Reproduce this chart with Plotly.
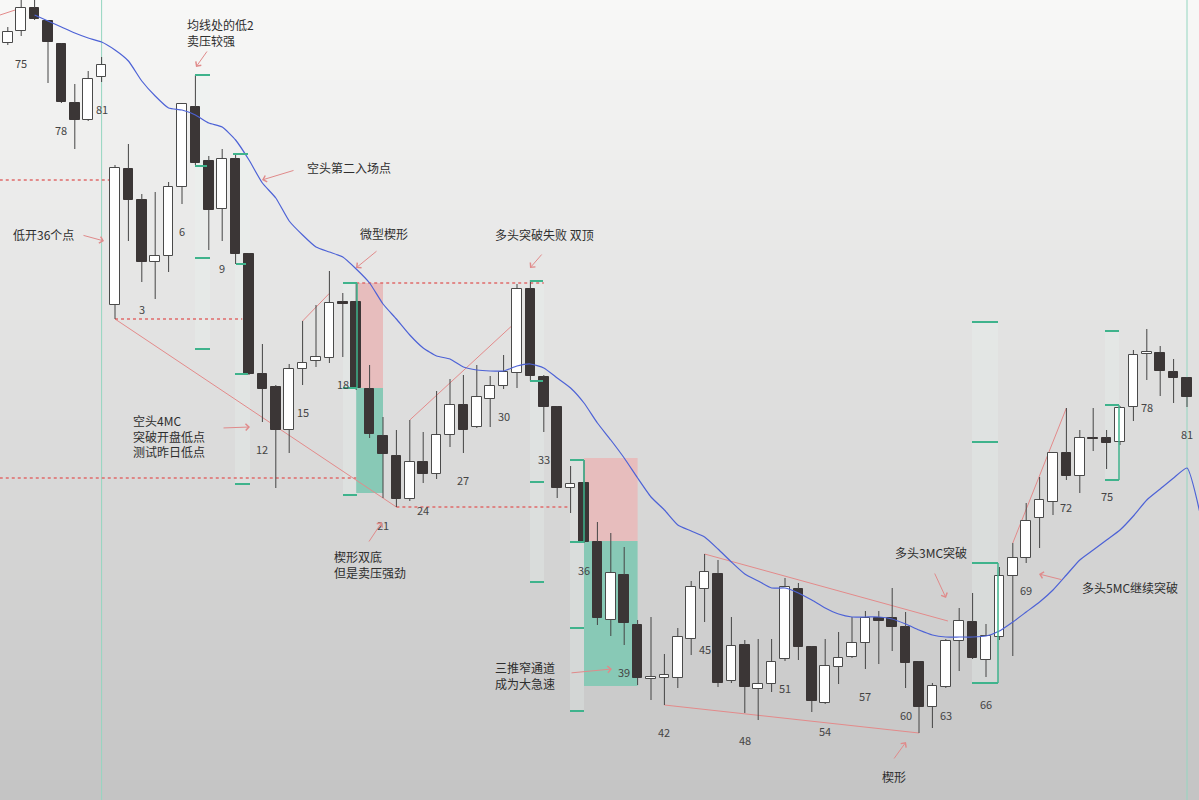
import plotly.graph_objects as go

W, H = 1199, 800

# ---------------- data ----------------
# previous session bars 74..81, then today's bars 1..81
bar_no = [74, 75, 76, 77, 78, 79, 80, 81] + list(range(1, 82))

opens = [4143.55, 4145.35, 4148.8, 4146.85, 4143.4, 4134.55, 4132, 4138.45,
         4104.25, 4124.65, 4120, 4110.7, 4111.6, 4121.95, 4133.95, 4125.85, 4118.65, 4126.15,
         4111.9, 4093.9, 4091.95, 4085.5, 4094.65, 4095.85, 4096.3, 4104.7, 4104.7, 4091.65,
         4084.6, 4081.6, 4075.15, 4080.7, 4078.9, 4084.75, 4089.25, 4085.95, 4090.15, 4092.1,
         4094.05, 4106.65, 4093.45, 4088.95, 4076.8, 4077.55, 4068.7, 4057, 4063.75, 4056.25,
         4048.15, 4048.3, 4048.3, 4054.15, 4061.65, 4063.9, 4047.85, 4053.25, 4046.65, 4047.4,
         4051.15, 4061.65, 4052.95, 4044.55, 4049.95, 4051.45, 4053.55, 4057.3, 4057.3, 4055.95,
         4050.7, 4043.95, 4046.95, 4053.85, 4056.7, 4051, 4054.45, 4063.6, 4066.3, 4072.3,
         4074.7, 4082.05, 4078.6, 4084.3, 4084.3, 4083.7, 4088.95, 4096.9, 4097.05, 4094.2,
         4093.3]
highs = [4145.95, 4150.3, 4150.3, 4147, 4143.55, 4137.4, 4139.35, 4141.45,
         4125.25, 4128.4, 4120.9, 4121.2, 4122.7, 4134.55, 4138.75, 4126.6, 4127.65, 4126.9,
         4112.05, 4098.4, 4092.25, 4095.4, 4101.85, 4104.25, 4109.35, 4106.05, 4107.55, 4095.25,
         4087.45, 4085.5, 4087, 4085.2, 4091.35, 4093.15, 4093.75, 4095.25, 4093.6, 4096.75,
         4107.4, 4108, 4093.75, 4089.1, 4080.1, 4081, 4071.7, 4070.05, 4067.95, 4057,
         4057.45, 4051.9, 4055.8, 4062.85, 4066.9, 4066, 4057.45, 4054, 4054.15, 4054.15,
         4063.3, 4062.55, 4053.1, 4054.15, 4055.2, 4057.45, 4058.35, 4058.35, 4061.8, 4058.2,
         4050.85, 4047.55, 4054.15, 4058.8, 4061.05, 4056.4, 4064.95, 4068.55, 4074.55, 4078.45,
         4082.2, 4088.8, 4085.5, 4088.8, 4085.5, 4089.1, 4097.5, 4100.65, 4098.1, 4096.15,
         4093.45]
lows = [4143.25, 4144.6, 4147, 4137.55, 4134.55, 4127.65, 4131.85, 4137.7,
        4102.15, 4113.85, 4107.7, 4105.15, 4109.2, 4119.4, 4125.25, 4112.5, 4113.85, 4110.4,
        4093.75, 4086.7, 4076.8, 4082.05, 4092.25, 4094.95, 4095.55, 4096.45, 4091.5, 4084.3,
        4075.3, 4073.95, 4074.85, 4077.55, 4078.15, 4082.95, 4082.05, 4085.8, 4085.95, 4091.65,
        4091.8, 4092.85, 4085.2, 4075.3, 4073.05, 4068.55, 4056.25, 4054.6, 4053.25, 4047.25,
        4045, 4044.25, 4046.8, 4051.75, 4056.7, 4046.95, 4047.55, 4043.05, 4042, 4046.2,
        4050.85, 4051, 4043.2, 4044.4, 4047.4, 4051.3, 4049.65, 4050.4, 4052.35, 4046.8,
        4040.05, 4040.8, 4046.8, 4049.35, 4051.15, 4048.45, 4054, 4051.6, 4065.55, 4067.8,
        4072.75, 4078, 4076.05, 4082.35, 4079.65, 4083.25, 4086.85, 4093, 4090.6, 4089.55,
        4088.95]
closes = [4145.2, 4148.8, 4147.15, 4143.7, 4134.7, 4132, 4138.15, 4140.25,
          4124.8, 4120, 4110.7, 4111.6, 4121.95, 4134.4, 4125.55, 4118.5, 4126.15, 4111.9,
          4093.9, 4091.65, 4085.5, 4094.65, 4095.55, 4096.45, 4104.55, 4104.4, 4091.8, 4084.9,
          4081.9, 4075.15, 4080.7, 4078.9, 4084.75, 4089.25, 4085.5, 4090.45, 4092.1, 4094.2,
          4106.65, 4093.6, 4088.95, 4076.8, 4077.4, 4068.7, 4057.3, 4064.05, 4056.55, 4048.3,
          4048.45, 4048.75, 4054.45, 4061.95, 4064.2, 4047.55, 4053.1, 4046.95, 4047.4, 4050.7,
          4061.95, 4052.95, 4044.85, 4050.1, 4051.3, 4053.55, 4057.3, 4056.85, 4055.95, 4050.55,
          4043.95, 4047.1, 4053.85, 4056.85, 4051.3, 4054.6, 4063.6, 4066.3, 4071.85, 4075,
          4082.05, 4078.6, 4084.3, 4084.15, 4083.55, 4088.8, 4096.75, 4097.2, 4094.35, 4093.3,
          4090.45]

# moving average, starting at previous-session bar 76 (index 2)
ma_start = 2
ma_values = [4147.75, 4146.85, 4145.95, 4145.05, 4144.3, 4143.7,
             4142.5, 4140.85, 4137.85, 4135.6, 4133.8, 4133.5, 4132.75, 4131.55, 4130.95, 4129,
             4126, 4122.55, 4120.3, 4116.85, 4114.75, 4112.95, 4112.2, 4111.45, 4109.65, 4107.55,
             4104.4, 4102.15, 4099.75, 4097.8, 4096.6, 4096.15, 4094.95, 4094.5, 4094.35, 4094.35,
             4095.1, 4095.4, 4094.8, 4093.3, 4091.8, 4089.55, 4086.55, 4084, 4081.3, 4078.3,
             4075.45, 4073.5, 4071.25, 4070.35, 4069.45, 4067.65, 4065.7, 4063.9, 4062.85, 4061.8,
             4061.8, 4061.05, 4060, 4058.8, 4057.9, 4057.45, 4057.45, 4057.45, 4057.15, 4056.4,
             4055.5, 4054.75, 4054.45, 4054.45, 4054.45, 4054.6, 4055.35, 4056.7, 4058.2, 4059.7,
             4061.5, 4063.75, 4066, 4067.5, 4069, 4070.5, 4072.6, 4075, 4076.65, 4078.3,
             4079.8, 4072.75]

# ---------------- figure ----------------
xs = list(range(len(bar_no)))


def bi(k):
    """x index of today's bar k"""
    return k + 7


fig = go.Figure()

# wicks (above and below the body)
wx, wy = [], []
for i in xs:
    top = max(opens[i], closes[i])
    bot = min(opens[i], closes[i])
    wx += [i, i, None, i, i, None]
    wy += [highs[i], top, None, bot, lows[i], None]
fig.add_trace(go.Scatter(x=wx, y=wy, mode="lines", line=dict(color="#454545", width=1),
                         hoverinfo="skip"))

up = [c >= o for o, c in zip(opens, closes)]
fig.add_trace(go.Bar(
    x=xs,
    y=[max(abs(c - o), 0.15) for o, c in zip(opens, closes)],
    base=[min(o, c) for o, c in zip(opens, closes)],
    width=0.72,
    marker=dict(color=["#ffffff" if u else "#3b3636" for u in up],
                line=dict(color=["#4a4a4a" if u else "#3b3636" for u in up], width=1)),
    hoverinfo="skip"))

fig.add_trace(go.Scatter(x=list(range(ma_start, ma_start + len(ma_values))), y=ma_values,
                         mode="lines", line=dict(color="#4d62d6", width=1.2, shape="spline",
                                                 smoothing=0.5),
                         hoverinfo="skip"))

# bar counts every 3 bars
for i, n in enumerate(bar_no):
    if n % 3 == 0:
        fig.add_annotation(x=i, y=lows[i], text=str(n), showarrow=False, yshift=-27,
                           font=dict(size=11, color="#444444", family="Noto Sans CJK SC"))

# ---------------- decorations ----------------
shapes = []

# background gradient
top_c, bot_c = (248, 248, 247), (196, 196, 196)
N = 80
for k in range(N):
    t = (k + 0.5) / N
    c = tuple(round(top_c[j] + (bot_c[j] - top_c[j]) * t) for j in range(3))
    shapes.append(dict(type="rect", xref="paper", yref="paper", x0=0, x1=1,
                       y0=max(0, 1 - (k + 1) / N - 0.002), y1=1 - k / N,
                       fillcolor="rgb(%d,%d,%d)" % c, line_width=0, layer="below"))


def px(xp):
    return xp / W


def py(yp):
    return 1 - yp / H


# faint projection columns (pixel layout)
columns = [(195, 210, 75, 349), (235, 250, 154, 484), (343, 357, 283, 495),
           (530, 544, 281, 582), (570, 584, 460, 711), (972, 998, 322, 683),
           (1105, 1119, 331, 480)]
for x0, x1, y0, y1 in columns:
    shapes.append(dict(type="rect", xref="paper", yref="paper", x0=px(x0), x1=px(x1),
                       y0=py(y1), y1=py(y0), fillcolor="rgba(232,244,240,0.28)",
                       line_width=0, layer="below"))

# measured-move boxes (data units)
boxes = [
    (bi(19), bi(21), highs[bi(19)], closes[bi(19)], "#e7bdbd"),
    (bi(19), bi(21), closes[bi(19)], 2 * closes[bi(19)] - highs[bi(19)], "#88c9b6"),
    (bi(36), bi(40), 4081.3, 4068.85, "#e7bdbd"),
    (bi(36), bi(40), 4068.85, 4047.1, "#88c9b6"),
]
for x0, x1, y0, y1, col in boxes:
    shapes.append(dict(type="rect", xref="x", yref="y", x0=x0, x1=x1, y0=y1, y1=y0,
                       fillcolor=col, line_width=0, layer="below"))

# session separators
for xi in [7, bi(81)]:
    shapes.append(dict(type="line", xref="x", yref="paper", x0=xi, x1=xi, y0=0, y1=1,
                       line=dict(color="#94d6c0", width=1), layer="below"))

# trend lines (data units)
trend = [
    (-0.58, 4147.75, 1, closes[1]),
    (bi(1), lows[bi(1)], bi(22), lows[bi(22)]),
    (bi(15), highs[bi(15)], bi(17), 4106.0),
    (bi(23), highs[bi(23)], 37.6, 4101.1),
    (bi(42), lows[bi(42)], bi(61), lows[bi(61)]),
    (bi(45), highs[bi(45)], 70.16, 4056.85),
    (bi(68), highs[bi(68)], bi(72), highs[bi(72)]),
]
for x0, y0, x1, y1 in trend:
    shapes.append(dict(type="line", xref="x", yref="y", x0=x0, y0=y0, x1=x1, y1=y1,
                       line=dict(color="#e38a8a", width=1), layer="below"))

# dotted levels (x0, x1, price)
levels = [
    (-0.6, 7.6, 4123.0),
    (bi(1), 17.5, lows[bi(1)]),
    (-0.6, bi(19), 4078.3),
    (bi(19), bi(33), highs[bi(19)]),
    (bi(22), bi(35), lows[bi(22)]),
]
for x0, x1, lv in levels:
    shapes.append(dict(type="line", xref="x", yref="y", x0=x0, x1=x1, y0=lv, y1=lv,
                       line=dict(color="#e06b6b", width=1.5, dash="dot"), layer="below"))

# green projection ticks (pixel layout)
ticks = [(195, 210, 75), (195, 207, 166), (233, 248, 154), (236, 246, 264),
         (195, 210, 258), (195, 210, 349), (235, 248, 374), (235, 250, 484),
         (343, 357, 283), (343, 357, 388), (343, 357, 495),
         (530, 543, 281), (530, 543, 381), (530, 544, 482), (530, 544, 582),
         (570, 584, 460), (570, 584, 542), (570, 584, 628), (570, 584, 711),
         (972, 998, 322), (972, 998, 442), (972, 998, 563), (972, 998, 683),
         (1105, 1119, 331), (1105, 1119, 405), (1105, 1119, 480)]
for x0, x1, y in ticks:
    shapes.append(dict(type="line", xref="paper", yref="paper", x0=px(x0), x1=px(x1),
                       y0=py(y), y1=py(y), line=dict(color="#3fb38c", width=2)))
brackets = [(357, 283, 388), (584, 460, 542), (998, 563, 683), (1119, 405, 480)]
for xb, y0, y1 in brackets:
    shapes.append(dict(type="line", xref="paper", yref="paper", x0=px(xb), x1=px(xb),
                       y0=py(y0), y1=py(y1), line=dict(color="#3fb38c", width=1.5)))

# ---------------- text notes (left edge x, vertical centre y of the block) ----------------
notes = [
    ("均线处的低2<br>卖压较强", 185, 32),
    ("空头第二入场点", 305, 168),
    ("低开36个点", 11, 235),
    ("微型楔形", 358, 233),
    ("多头突破失败 双顶", 493, 235),
    ("空头4MC<br>突破开盘低点<br>测试昨日低点", 131, 436),
    ("楔形双底<br>但是卖压强劲", 332, 564),
    ("三推窄通道<br>成为大急速", 493, 675),
    ("多头3MC突破", 893, 552),
    ("多头5MC继续突破", 1080, 587),
    ("楔形", 880, 776),
]
for txt, xt, yt in notes:
    fig.add_annotation(x=px(xt), y=py(yt), xref="paper", yref="paper", text=txt,
                       showarrow=False, xanchor="left", yanchor="middle", align="left",
                       font=dict(size=12, color="#2e2e2e", family="Noto Sans CJK SC"))

arrows = [((208, 50), (196, 67)), ((295, 170), (262, 180)), ((82, 235), (104, 241)),
          ((378, 250), (356, 268)), ((543, 253), (530, 268)), ((222, 428), (250, 427)),
          ((368, 543), (382, 522)), ((570, 673), (612, 669)), ((934, 572), (946, 598)),
          ((1063, 580), (1039, 574)), ((893, 760), (906, 742))]
for (tx, ty), (hx, hy) in arrows:
    fig.add_annotation(x=px(hx), y=py(hy), xref="paper", yref="paper", text="",
                       showarrow=True, ax=tx - hx, ay=ty - hy, arrowhead=4, arrowsize=1.3,
                       arrowwidth=1, arrowcolor="#e08a8a", standoff=0, startstandoff=0)

fig.update_layout(
    width=W, height=H, margin=dict(l=0, r=0, t=0, b=0, pad=0),
    paper_bgcolor="#e6e6e6", plot_bgcolor="rgba(0,0,0,0)",
    showlegend=False, shapes=shapes, bargap=0,
    xaxis=dict(range=[-7.8 / 13.4, (W - 7.8) / 13.4], visible=False, fixedrange=True),
    yaxis=dict(range=[4030, 4150], visible=False, fixedrange=True),
    font=dict(family="Noto Sans CJK SC"),
)

fig.write_html("out.html", config={"displayModeBar": False},
               post_script="document.body.style.margin='0';document.body.style.overflow='hidden';")
